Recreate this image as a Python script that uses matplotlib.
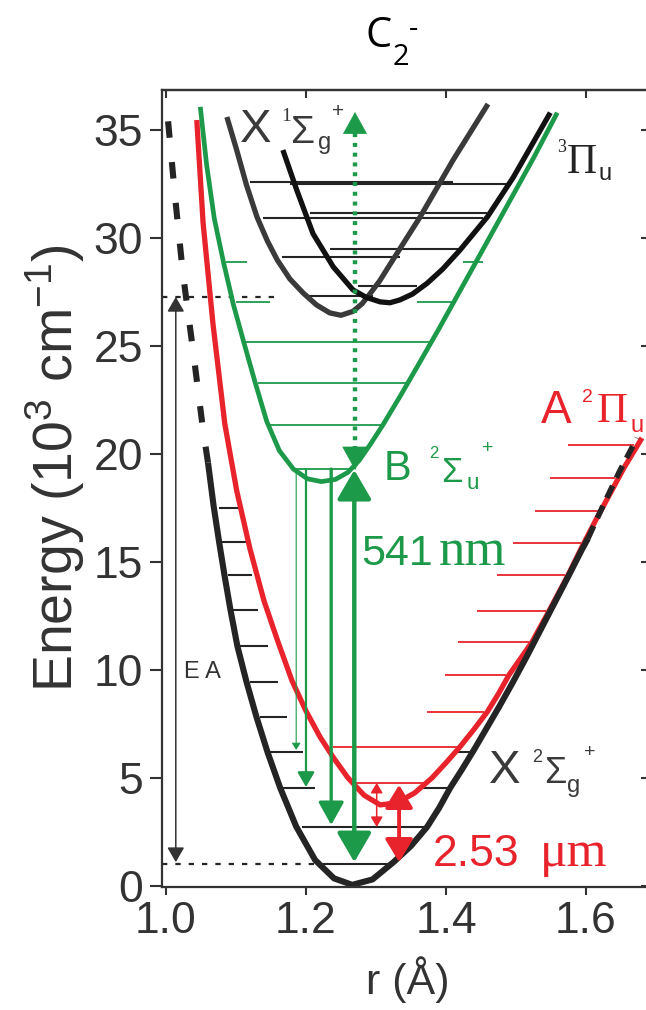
import matplotlib
matplotlib.use('Agg')
import matplotlib.pyplot as plt
from matplotlib.patches import FancyArrowPatch

W, H = 646, 1010
SANS = ['Liberation Sans', 'DejaVu Sans']
SERIF = ['Liberation Serif', 'DejaVu Serif']
plt.rcParams['mathtext.default'] = 'regular'

BLACK = '#242424'
GREY = '#3a3a3a'
RED = '#e8232b'
GREEN = '#1d9a49'
AXC = '#333333'

# potential curves (r in Angstrom, E in 10^3 cm-1)
# C2- X 2Sigma_g+
xg_ldash_r = [1.003, 1.013, 1.024, 1.039, 1.053, 1.060]
xg_ldash_e = [35.4, 31.9, 28.4, 24.7, 21.1, 19.6]
xg_r = [1.060, 1.068, 1.076, 1.084, 1.092, 1.102, 1.115, 1.129, 1.145, 1.163,
        1.186, 1.213, 1.240, 1.266, 1.295, 1.325, 1.350, 1.373, 1.390, 1.406,
        1.423, 1.440, 1.458, 1.476, 1.495, 1.515, 1.535, 1.555, 1.575, 1.593,
        1.603]
xg_e = [19.6, 17.6, 15.9, 14.3, 12.8, 11.1, 9.45, 7.85, 6.2, 4.55,
        2.75, 1.2, 0.35, 0.05, 0.3, 1.1, 1.85, 2.73, 3.6, 4.54,
        5.4, 6.3, 7.3, 8.3, 9.4, 10.6, 11.85, 13.1, 14.35, 15.5,
        16.1]
xg_rdash_r = [1.603, 1.625, 1.648, 1.673]
xg_rdash_e = [16.1, 17.65, 19.2, 20.74]

# C2- A 2Pi_u
a_r = [1.044, 1.053, 1.067, 1.084, 1.101, 1.120, 1.140, 1.160, 1.180, 1.200,
       1.220, 1.240, 1.260, 1.283, 1.306, 1.330, 1.355, 1.380, 1.400, 1.420,
       1.440, 1.459, 1.475, 1.490, 1.507, 1.523, 1.545, 1.573, 1.595, 1.615,
       1.635, 1.655, 1.680]
a_e = [35.46, 30.7, 26.06, 21.4, 18.3, 15.6, 13.2, 11.3, 9.5, 8.1,
       6.9, 5.9, 5.0, 4.2, 3.75, 3.85, 4.3, 5.0, 5.7, 6.44,
       7.25, 8.06, 8.9, 9.77, 10.55, 11.3, 12.6, 14.3, 15.75, 17.0,
       18.2, 19.4, 20.74]

# C2- B 2Sigma_u+
b_r = [1.049, 1.058, 1.069, 1.082, 1.096, 1.111, 1.127, 1.144, 1.162, 1.182,
       1.202, 1.222, 1.242, 1.260, 1.276, 1.292, 1.310, 1.335, 1.360, 1.390,
       1.420, 1.455, 1.490, 1.525, 1.559]
b_e = [36.07, 33.4, 30.9, 28.9, 26.95, 25.19, 23.35, 21.5, 20.15, 19.3,
       18.85, 18.72, 18.82, 19.15, 19.7, 20.45, 21.35, 22.7, 24.1, 25.8,
       27.55, 29.6, 31.65, 33.7, 35.8]

# C2 X 1Sigma_g+
s_r = [1.087, 1.101, 1.115, 1.130, 1.145, 1.159, 1.177, 1.196, 1.215, 1.234,
       1.250, 1.267, 1.280, 1.291, 1.305, 1.324, 1.343, 1.363, 1.385, 1.410,
       1.435, 1.460]
s_e = [35.6, 34.07, 32.45, 30.97, 29.85, 28.98, 28.1, 27.45, 26.9, 26.53,
       26.42, 26.6, 26.95, 27.4, 28.0, 28.98, 29.95, 30.97, 32.2, 33.6,
       34.9, 36.2]

# C2 3Pi_u
p_r = [1.167, 1.187, 1.210, 1.239, 1.267, 1.286, 1.306, 1.320, 1.334, 1.352,
       1.373, 1.395, 1.420, 1.459, 1.496, 1.549]
p_e = [34.07, 32.2, 30.2, 28.66, 27.6, 27.25, 27.04, 27.0, 27.13, 27.4,
       27.9, 28.55, 29.44, 30.97, 32.8, 35.8]

# vibrational levels: energy, left end, right end
xg_lev_e = [17.5, 15.93, 14.4, 12.78, 11.11, 9.44, 7.82, 6.2, 4.54, 2.73, 1.0, 6.2, 4.54]
xg_lev_r0 = [1.076, 1.080, 1.089, 1.096, 1.106, 1.120, 1.135, 1.149, 1.167, 1.194, 1.224, 1.410, 1.363]
xg_lev_r1 = [1.109, 1.120, 1.123, 1.131, 1.146, 1.160, 1.173, 1.196, 1.213, 1.373, 1.324, 1.437, 1.404]

a_lev_e = [20.42, 18.89, 17.36, 15.88, 14.4, 12.73, 11.3, 9.77, 8.06, 6.44, 4.77]
a_lev_r0 = [1.574, 1.549, 1.527, 1.496, 1.473, 1.444, 1.417, 1.399, 1.373, 1.239, 1.270]
a_lev_r1 = [1.668, 1.642, 1.617, 1.593, 1.570, 1.543, 1.519, 1.486, 1.455, 1.418, 1.370]

b_lev_e = [19.3, 21.34, 23.29, 25.19, 27.04, 27.04, 28.89, 28.89]
b_lev_r0 = [1.183, 1.146, 1.131, 1.115, 1.100, 1.359, 1.086, 1.424]
b_lev_r1 = [1.263, 1.310, 1.345, 1.380, 1.149, 1.414, 1.116, 1.453]

up_lev_e = [32.61, 32.49, 31.16, 30.93, 29.49, 29.12, 27.78, 27.31]
up_lev_r0 = [1.120, 1.177, 1.206, 1.139, 1.234, 1.166, 1.274, 1.203]
up_lev_r1 = [1.410, 1.490, 1.459, 1.453, 1.420, 1.334, 1.359, 1.296]

# transitions: position, start, tip
g_arr_r = [1.186, 1.200, 1.236]
g_arr_e0 = [19.3, 19.3, 19.3]
g_arr_e1 = [6.3, 4.58, 2.82]
g_main_r, g_main_e = 1.269, (19.26, 1.1)
g_dot_r, g_dot_e = 1.270, (19.26, 35.83)
red_arr_r = [1.301, 1.333]
red_arr_e = [(4.77, 2.73), (4.68, 1.1)]
ea_r, ea_e = 1.014, (27.27, 1.1)
ea_lines_e = [27.27, 1.0]
ea_lines_r1 = [1.163, 1.217]

fig = plt.figure(figsize=(W / 100, H / 100), dpi=100)
ax = fig.add_axes([162 / W, 123 / H, 487 / W, 797 / H])
ax.set_xlim(0.9943, 1.69)
ax.set_ylim(-0.05, 36.85)

# levels (drawn first, under the curves)
ax.hlines(xg_lev_e, xg_lev_r0, xg_lev_r1, color=BLACK, lw=1.5)
ax.hlines(a_lev_e, a_lev_r0, a_lev_r1, color=RED, lw=1.3)
ax.hlines(b_lev_e, b_lev_r0, b_lev_r1, color=GREEN, lw=1.3)
ax.hlines(up_lev_e, up_lev_r0, up_lev_r1, color=BLACK, lw=1.5)
ax.hlines(ea_lines_e, ax.get_xlim()[0], ea_lines_r1, color=BLACK, lw=1.6,
          linestyles=(0, (2.4, 3.6)))

# curves
kw = dict(solid_capstyle='butt', solid_joinstyle='round')
ax.plot(s_r, s_e, color=GREY, lw=3.8, **kw)
ax.plot(p_r, p_e, color='#111111', lw=3.8, **kw)
ax.plot(b_r, b_e, color=GREEN, lw=3.4, **kw)
ax.plot(a_r, a_e, color=RED, lw=3.8, **kw)
ax.plot(xg_r, xg_e, color=BLACK, lw=4.4, **kw)
ax.plot(xg_ldash_r, xg_ldash_e, color=BLACK, lw=4.4, dashes=(2.7, 4.0))
ax.plot(xg_rdash_r, xg_rdash_e, color=BLACK, lw=4.0, dashes=(2.4, 1.6))


def arrow(r, e0, e1, color, lw, hl, hw, style='-|>'):
    ax.add_patch(FancyArrowPatch((r, e0), (r, e1),
                                 arrowstyle=f'{style},head_length={hl},head_width={hw}',
                                 mutation_scale=1, lw=lw, color=color,
                                 shrinkA=0, shrinkB=0, zorder=4))


# green emission arrows
for r, e0, e1, lw, hl, hw in zip(g_arr_r, g_arr_e0, g_arr_e1,
                                 [0.8, 1.6, 2.4], [4, 9, 14], [2.6, 5.2, 7.8]):
    arrow(r, e0, e1, GREEN, lw, hl, hw)
arrow(g_main_r, g_main_e[0], g_main_e[1], GREEN, 3.2, 18, 10.5, '<|-|>')
ax.plot([g_dot_r, g_dot_r], [g_dot_e[0] + 0.9, g_dot_e[1] - 0.9], color=GREEN,
        lw=3.2, dashes=(0.9, 1.3), zorder=4)
arrow(g_dot_r, g_dot_e[1] - 1.0, g_dot_e[1], GREEN, 0.5, 15, 8.3)
arrow(g_dot_r, g_dot_e[0] + 1.1, g_dot_e[0], GREEN, 0.5, 16, 8.8)

# red arrows
arrow(red_arr_r[0], red_arr_e[0][0], red_arr_e[0][1], RED, 1.1, 6, 3.6, '<|-|>')
arrow(red_arr_r[1], red_arr_e[1][0], red_arr_e[1][1], RED, 2.8, 14, 8.5, '<|-|>')

# electron affinity arrow
arrow(ea_r, ea_e[0], ea_e[1], AXC, 1.1, 9, 5.2, '<|-|>')

# axes styling
for side in ['left', 'bottom', 'top']:
    ax.spines[side].set_color(AXC)
    ax.spines[side].set_linewidth(1.6)
ax.spines['right'].set_visible(False)
ax.set_xticks([1.0, 1.2, 1.4, 1.6])
ax.set_xticklabels(['1.0', '1.2', '1.4', '1.6'])
ax.set_yticks([0, 5, 10, 15, 20, 25, 30, 35])
ax.tick_params(axis='x', direction='out', length=6, width=1.5, color=AXC,
               labelsize=32, labelcolor=AXC, pad=4)
ax.tick_params(axis='y', direction='out', length=8.5, width=1.5, color=AXC,
               labelsize=32, labelcolor=AXC, pad=5)
for lab in ax.get_xticklabels() + ax.get_yticklabels():
    lab.set_family(SANS)
top = ax.secondary_xaxis('top')
top.set_xticks([1.0, 1.2, 1.4, 1.6])
top.tick_params(direction='in', length=6, width=1.5, color=AXC, labeltop=False)
top.spines['top'].set_color(AXC)
top.spines['top'].set_linewidth(1.6)
right = ax.secondary_yaxis('right')
right.set_yticks([0, 5, 10, 15, 20, 25, 30, 35])
right.tick_params(direction='in', length=6, width=1.5, color=AXC, labelright=False)

fig.text(55 / W, 1 - 468 / H, 'Energy (10$^3$ cm$^{-1}$)', rotation=90,
         ha='center', va='center', fontsize=40, color=AXC, family=SANS)
fig.text(408 / W, 1 - 980 / H, 'r (Å)', ha='center', va='center',
         fontsize=31, color=AXC, family=SANS)


def put(px, py, s, size, color, family=SANS):
    fig.text(px / W, 1 - py / H, s, ha='left', va='baseline', fontsize=size,
             color=color, family=family)


# title
put(365, 47, 'C', 30, 'black', ['Open Sans', 'DejaVu Sans'])
put(393, 65, '2', 21, 'black', ['Open Sans', 'DejaVu Sans'])
put(409, 37, '-', 21, 'black', ['Open Sans', 'DejaVu Sans'])

# state labels
put(240, 142, 'X', 34, GREY)
put(281, 121, '1', 14, GREY, SERIF)
put(291, 143, 'Σ', 28, GREY)
put(318, 149, 'g', 17, GREY)
put(332, 117, '+', 15, GREY)

put(557, 152, '3', 13, BLACK, SERIF)
put(567, 173, 'Π', 30, BLACK, SERIF)
put(598, 180, 'u', 17, BLACK)

put(541, 423, 'A', 33, RED)
put(582, 402, '2', 14, RED)
put(597, 422, 'Π', 31, RED, SERIF)
put(630, 432, 'u', 17, RED)

put(384, 480, 'B', 30, GREEN)
put(429, 458, '2', 12, GREEN)
put(441, 482, 'Σ', 25, GREEN)
put(467, 489, 'u', 16, GREEN)
put(482, 453, '+', 14, GREEN)

put(361, 565, '541', 31, GREEN)
put(439, 565, 'nm', 38, GREEN, SERIF)

put(489, 783, 'X', 34, GREY)
put(532, 762, '2', 13, GREY)
put(544, 783, 'Σ', 26, GREY)
put(567, 792, 'g', 17, GREY)
put(584, 757, '+', 14, GREY)

put(433, 866, '2.53', 32, RED)
put(540, 866, 'μm', 37, RED, SERIF)

put(184, 678, 'E A', 17, AXC)

fig.savefig('out.png', dpi=100)
